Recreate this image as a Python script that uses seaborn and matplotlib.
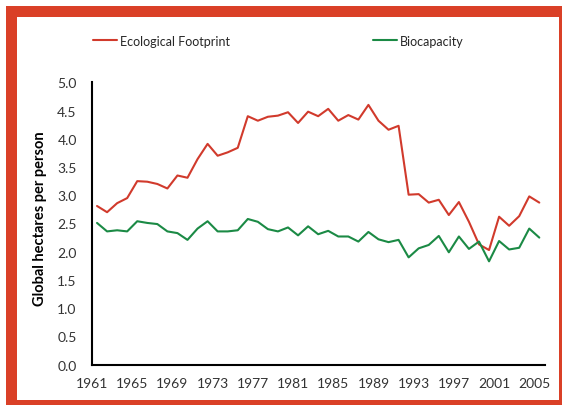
import numpy as np
import pandas as pd
import matplotlib
matplotlib.use("Agg")
import matplotlib.pyplot as plt
import seaborn as sns
from matplotlib.patches import Rectangle

years = list(range(1961, 2006))
footprint = [2.81, 2.70, 2.86, 2.95, 3.25, 3.24, 3.20, 3.12, 3.35, 3.31,
             3.64, 3.91, 3.70, 3.76, 3.84, 4.40, 4.32, 4.39, 4.41, 4.47,
             4.28, 4.48, 4.40, 4.53, 4.32, 4.42, 4.34, 4.60, 4.32, 4.16,
             4.23, 3.01, 3.02, 2.87, 2.92, 2.65, 2.88, 2.53, 2.13, 2.03,
             2.62, 2.46, 2.63, 2.98, 2.87]
biocapacity = [2.51, 2.36, 2.38, 2.36, 2.54, 2.51, 2.49, 2.36, 2.33, 2.21,
               2.41, 2.54, 2.36, 2.36, 2.38, 2.58, 2.53, 2.40, 2.36, 2.43,
               2.29, 2.45, 2.31, 2.37, 2.27, 2.27, 2.18, 2.35, 2.22, 2.17,
               2.21, 1.90, 2.06, 2.12, 2.28, 1.99, 2.27, 2.05, 2.18, 1.83,
               2.19, 2.04, 2.07, 2.41, 2.25]
series_names = ["Ecological Footprint", "Biocapacity"]
x_ticks = list(range(1961, 2006, 4))
y_ticks = [0.0, 0.5, 1.0, 1.5, 2.0, 2.5, 3.0, 3.5, 4.0, 4.5, 5.0]

RED = "#D13A2C"
GREEN = "#1B8A45"
FRAME = "#DA4027"

sns.set_style("white")
plt.rcParams["font.family"] = ["Lato", "DejaVu Sans"]

# long-format table; points sit in the middle of each year
df = pd.DataFrame({
    "year": np.array(years, dtype=float) + 0.5,
    series_names[0]: footprint,
    series_names[1]: biocapacity,
}).melt(id_vars="year", var_name="series", value_name="value")

fig = plt.figure(figsize=(5.62, 4.06), dpi=100)

# red frame around the chart, kept behind the axes
fig.patches.append(Rectangle((0.0107, -0.1), 1.2, 1.0828, transform=fig.transFigure,
                             facecolor=FRAME, edgecolor="none", zorder=-2))
fig.patches.append(Rectangle((0.0297, 0.0123), 0.9650, 0.9434, transform=fig.transFigure,
                             facecolor="white", edgecolor="none", zorder=-1))

ax = fig.add_axes([0.1637, 0.0993, 0.8061, 0.6955])
ax.patch.set_alpha(0)
sns.lineplot(data=df, x="year", y="value", hue="series", hue_order=series_names,
             palette=[RED, GREEN], linewidth=1.5, ax=ax, legend=False)

ax.set_xlim(1961, 2006.07)
ax.set_ylim(0, 5)
ax.set_xticks(x_ticks)
ax.set_yticks(y_ticks)
ax.set_yticklabels([f"{v:.1f}" for v in y_ticks])
ax.set_xlabel("")
ax.set_ylabel("")
for side in ["top", "right"]:
    ax.spines[side].set_visible(False)
for side in ["left", "bottom"]:
    ax.spines[side].set_color("black")
    ax.spines[side].set_linewidth(1.5)
ax.tick_params(axis="both", direction="in", length=4, width=1.5, color="black",
               labelsize=10, labelcolor="#333333")
ax.tick_params(axis="x", pad=9)
ax.tick_params(axis="y", pad=11)

fig.text(0.0712, 0.4606, "Global hectares per person", rotation=90,
         ha="center", va="center", fontsize=10.5, fontweight="bold", color="black")

handles = [plt.Line2D([], [], color=RED, linewidth=1.5),
           plt.Line2D([], [], color=GREEN, linewidth=1.5)]
fig.legend(handles, series_names, loc="center left", bbox_to_anchor=(0.166, 0.897),
           ncol=2, frameon=False, fontsize=9, handlelength=1.9, handletextpad=0.2,
           columnspacing=11.5, borderpad=0, borderaxespad=0)

fig.savefig("out.png", dpi=100)
